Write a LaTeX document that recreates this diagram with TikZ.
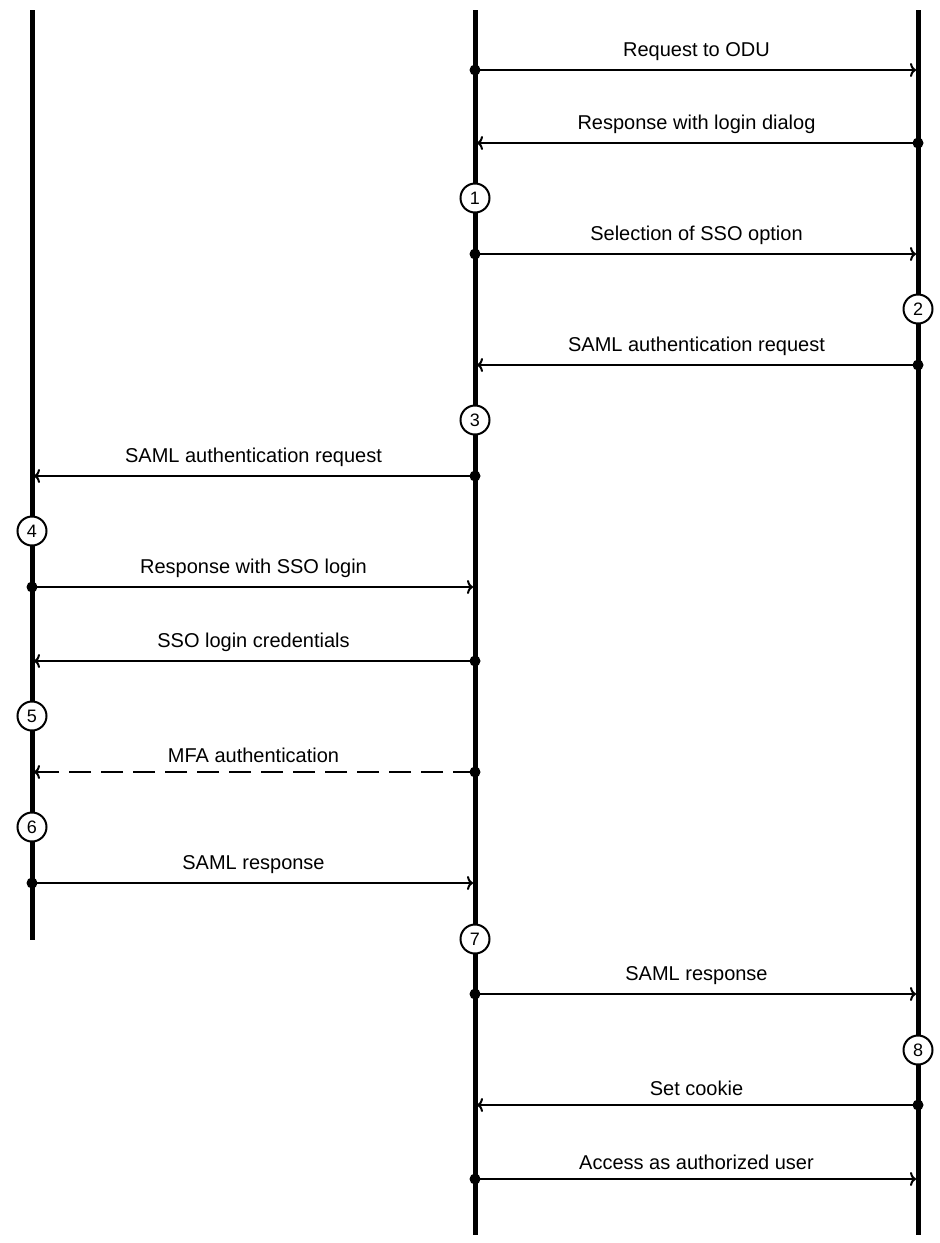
\documentclass[tikz,border=0pt]{standalone}
\usepackage{fontspec}
\setmainfont{Liberation Sans}
\usetikzlibrary{arrows.meta}
\tikzset{
  life/.style={line width=5pt},
  msg/.style={line width=2.5pt,-{To[length=6pt,width=14pt,line width=2pt]},shorten >=2pt},
  dot/.style={circle,fill,inner sep=0pt,minimum size=11pt},
  stepno/.style={circle,draw,fill=white,line width=2pt,minimum size=29pt,inner sep=0pt,font=\fontsize{18}{20}\selectfont},
  lbl/.style={above=5pt,font=\fontsize{20}{24}\selectfont}
}
\newcommand{\msgto}[4]{% y, from x, to x, label
  \coordinate (s#1) at (#2,#1); \coordinate (e#1) at (#3,#1);
  \node[dot] at (s#1) {};
  \draw[msg] (s#1) -- node[lbl] {#4} (e#1);}
\begin{document}
\begin{tikzpicture}[x=1pt,y=-1pt]
\useasboundingbox (0,0) rectangle (940,1243);
% lifelines
\coordinate (Ltop) at (32,10); \coordinate (Lbot) at (32,940);
\coordinate (Mtop) at (475,10); \coordinate (Mbot) at (475,1235);
\coordinate (Rtop) at (918,10); \coordinate (Rbot) at (918,1235);
\draw[life] (Ltop) -- (Lbot);
\draw[life] (Mtop) -- (Mbot);
\draw[life] (Rtop) -- (Rbot);
% messages
\msgto{70}{475}{918}{Request to ODU}
\msgto{143}{918}{475}{Response with login dialog}
\msgto{254}{475}{918}{Selection of SSO option}
\msgto{365}{918}{475}{SAML authentication request}
\msgto{476}{475}{32}{SAML authentication request}
\msgto{587}{32}{475}{Response with SSO login}
\msgto{661}{475}{32}{SSO login credentials}
\coordinate (s772) at (475,772); \coordinate (e772) at (32,772);
\node[dot] at (s772) {};
\draw[msg,dash pattern=on 22pt off 10pt] (s772) -- node[lbl] {MFA authentication} (e772);
\msgto{883}{32}{475}{SAML response}
\msgto{994}{475}{918}{SAML response}
\msgto{1105}{918}{475}{Set cookie}
\msgto{1179}{475}{918}{Access as authorized user}
% steps
\node[stepno] (c1) at (475,198) {1};
\node[stepno] (c2) at (918,309) {2};
\node[stepno] (c3) at (475,420) {3};
\node[stepno] (c4) at (32,531) {4};
\node[stepno] (c5) at (32,716) {5};
\node[stepno] (c6) at (32,827) {6};
\node[stepno] (c7) at (475,939) {7};
\node[stepno] (c8) at (918,1050) {8};
\end{tikzpicture}
\end{document}
